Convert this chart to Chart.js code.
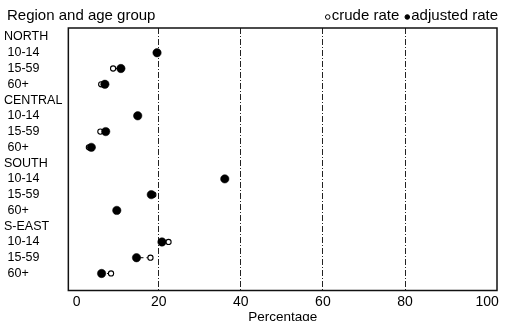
<!DOCTYPE html>
<html>
<head>
<meta charset="utf-8">
<script src="https://cdn.jsdelivr.net/npm/chart.js@4"></script>
<style>
  html, body { margin: 0; padding: 0; background: #fff; }
  #wrap { width: 506px; height: 321px; }
</style>
</head>
<body>
<div id="wrap"><canvas id="chart"></canvas></div>
<script>
// y axis rows, top to bottom
const rowLabels = ['NORTH', '10-14', '15-59', '60+',
                   'CENTRAL', '10-14', '15-59', '60+',
                   'SOUTH', '10-14', '15-59', '60+',
                   'S-EAST', '10-14', '15-59', '60+'];
const regionRows = [0, 4, 8, 12];

// rates in percent, null on the region heading rows
const crudeRate =    [null, 19.5, 8.9, 6.0,  null, 14.7, 5.8, 3.0,  null, 36.0, 18.7, 9.8,  null, 22.4, 18.0, 8.4];
const adjustedRate = [null, 19.6, 10.8, 6.9, null, 14.9, 7.1, 3.6,  null, 36.1, 18.2, 9.8,  null, 20.8, 14.6, 6.1];

const xTicks = [0, 20, 40, 60, 80, 100];
const gridValues = [20, 40, 60, 80];

const FONT = "'Liberation Sans', Arial, Helvetica, sans-serif";

// points for each series, skipping heading rows
function toPoints(values) {
  const pts = [];
  values.forEach((v, i) => {
    if (v !== null) pts.push({ x: v, y: i });
  });
  return pts;
}

// dashed connector between crude and adjusted in each row
function connectorPoints() {
  const pts = [];
  rowLabels.forEach((_, i) => {
    if (crudeRate[i] === null) return;
    pts.push({ x: crudeRate[i], y: i });
    pts.push({ x: adjustedRate[i], y: i });
    pts.push({ x: null, y: i });
  });
  return pts;
}

// frame around the plot area
const frame = {
  id: 'frame',
  beforeDatasetsDraw(chart) {
    const { ctx, chartArea: a } = chart;
    ctx.save();
    ctx.strokeStyle = '#111';
    ctx.lineWidth = 1.5;
    ctx.strokeRect(a.left, a.top, a.right - a.left, a.bottom - a.top);
    ctx.restore();
  }
};

// heading on the left and legend on the right, same line
const header = {
  id: 'header',
  afterDraw(chart) {
    const { ctx } = chart;
    ctx.save();
    ctx.fillStyle = '#000';
    ctx.textBaseline = 'middle';
    ctx.font = '15px ' + FONT;
    ctx.textAlign = 'left';
    ctx.fillText('Region and age group', 7, 16);

    const items = chart.data.datasets.filter(d => d.label);
    let right = 498;
    for (let k = items.length - 1; k >= 0; k--) {
      const ds = items[k];
      const w = ctx.measureText(ds.label).width;
      const tx = right - w;
      ctx.fillStyle = '#000';
      ctx.fillText(ds.label, tx, 16);
      ctx.beginPath();
      ctx.arc(tx - 4, 17, 2.3, 0, Math.PI * 2);
      ctx.fillStyle = ds.backgroundColor;
      ctx.fill();
      ctx.lineWidth = 1;
      ctx.strokeStyle = '#000';
      ctx.stroke();
      right = tx - 12;
    }
    ctx.restore();
  }
};

new Chart(document.getElementById('chart'), {
  type: 'scatter',
  data: {
    datasets: [
      {
        label: 'crude rate',
        data: toPoints(crudeRate),
        backgroundColor: '#fff',
        borderColor: '#000',
        pointRadius: 2.6,
        pointBorderWidth: 1.1,
        pointStyle: 'circle',
        order: 1
      },
      {
        label: 'adjusted rate',
        data: toPoints(adjustedRate),
        backgroundColor: '#000',
        borderColor: '#000',
        pointRadius: 4.2,
        pointBorderWidth: 0.5,
        pointStyle: 'circle',
        order: 0
      },
      {
        data: connectorPoints(),
        showLine: true,
        spanGaps: false,
        borderColor: '#000',
        borderWidth: 1,
        borderDash: [4, 3],
        pointRadius: 0,
        order: 2
      }
    ]
  },
  options: {
    responsive: true,
    maintainAspectRatio: false,
    animation: false,
    devicePixelRatio: 1,
    layout: {
      padding: { left: 4, right: 9, top: 28, bottom: 0 }
    },
    plugins: {
      legend: { display: false },
      tooltip: { enabled: false }
    },
    scales: {
      x: {
        type: 'linear',
        min: -2,
        max: 102.4,
        afterBuildTicks: scale => {
          scale.ticks = xTicks.map(v => ({ value: v }));
        },
        grid: {
          drawTicks: false,
          lineWidth: 1,
          color: ctx => gridValues.includes(ctx.tick && ctx.tick.value) ? '#222' : 'rgba(0,0,0,0)'
        },
        border: { display: false, dash: [6, 2, 1, 2] },
        ticks: {
          padding: 5,
          color: '#000',
          font: { family: FONT, size: 14, lineHeight: 1 }
        },
        title: {
          display: true,
          text: 'Percentage',
          color: '#000',
          font: { family: FONT, size: 13.5, lineHeight: 1 },
          padding: { top: -4, bottom: -3 }
        }
      },
      y: {
        type: 'linear',
        reverse: true,
        min: -0.57,
        max: 16.08,
        afterBuildTicks: scale => {
          scale.ticks = rowLabels.map((_, i) => ({ value: i }));
        },
        grid: { display: false, drawTicks: false },
        border: { display: false },
        ticks: {
          autoSkip: false,
          crossAlign: 'far',
          padding: 3,
          color: '#000',
          font: { family: FONT, size: 12.5 },
          callback: v => regionRows.includes(v) ? rowLabels[v] : ' ' + rowLabels[v]
        }
      }
    }
  },
  plugins: [frame, header]
});
</script>
</body>
</html>
